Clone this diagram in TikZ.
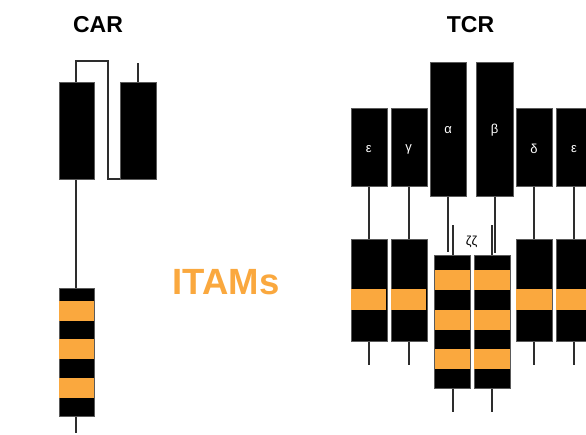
\documentclass[tikz,border=0pt]{standalone}
\usepackage{fontspec}
\setmainfont{Liberation Sans}
\definecolor{itam}{RGB}{250,168,62}
\definecolor{wire}{RGB}{45,45,45}
\definecolor{edge}{RGB}{90,90,90}
\begin{document}
\begin{tikzpicture}[x=1pt,y=-1pt,
  blk/.style={draw=edge,line width=0.6pt,fill=black,inner sep=0,anchor=north west,minimum width=36pt},
  band/.style={fill=itam},
  wirel/.style={draw=wire,line width=2pt},
  greek/.style={text=white,font=\fontsize{13}{15}\selectfont,inner sep=0},
  title/.style={font=\bfseries\fontsize{23}{26}\selectfont,inner sep=0}]
\useasboundingbox (0,0) rectangle (586,434);
\fill[white] (0,0) rectangle (586,434);
% titles
\node[title] (tcar) at (98,25) {CAR};
\node[title] (ttcr) at (470.5,25) {TCR};
\node[font=\bfseries\fontsize{36.5}{40}\selectfont,text=itam,inner sep=0] (itams) at (226,282) {ITAMs};
% ---------- CAR ----------
\coordinate (cartop) at (137.85,63);
\coordinate (carend) at (76.25,433);
\draw[wirel] (76.25,82) |- (107.7,61) |- (137.85,179);
\draw[wirel] (137.85,82) -- (cartop);
\draw[wirel] (76.25,179) -- (76.25,288);
\draw[wirel] (76.25,416) -- (carend);
\node[blk,minimum width=35.5pt,minimum height=97pt] (car1) at (58.5,82) {};
\node[blk,minimum width=35.5pt,minimum height=97pt] (car2) at (120.1,82) {};
\node[blk,minimum width=35.5pt,minimum height=128pt] (carz) at (58.5,288) {};
\foreach \a/\b in {301/321,339/359,378/398}{\fill[band] (58.9,\a) rectangle (93.6,\b);}
% ---------- TCR upper chains ----------
\node[blk,minimum height=78pt] (e1) at (350.7,108) {};
\node[blk,minimum height=78pt] (g) at (390.7,108) {};
\node[blk,minimum width=36.3pt,minimum height=134.3pt] (a) at (430,61.7) {};
\node[blk,minimum width=36.3pt,minimum height=134.3pt] (b) at (476.4,61.7) {};
\node[blk,minimum height=78pt] (d) at (516,108) {};
\node[blk,minimum height=78pt] (e2) at (556,108) {};
\node[greek] at (368.7,149) {ε};
\node[greek] at (408.7,149) {γ};
\node[greek] at (448.15,130) {α};
\node[greek] at (494.55,130) {β};
\node[greek] at (534,149) {δ};
\node[greek] at (574,149) {ε};
% ---------- TCR lower (CD3) ----------
\foreach \n/\x in {le1/350.7,lg/390.7,ld/516,le2/556}{
  \node[blk,minimum height=101.7pt] (\n) at (\x,239.3) {};
  \fill[band] (\x+0.4,289.3) rectangle (\x+35.6,310);
}
\node[blk,minimum height=133.3pt] (z1) at (434.3,255) {};
\node[blk,minimum height=133.3pt] (z2) at (474,255) {};
\foreach \x in {434.3,474}{
  \foreach \a/\c in {269.7/290,309.7/329.7,349.3/369.3}{\fill[band] (\x+0.4,\a) rectangle (\x+35.6,\c);}
}
\node[inner sep=0,font=\fontsize{13}{15}\selectfont] (zz) at (471.7,242) {ζζ};
% connectors
\draw[wirel] (e1.south) -- (le1.north);
\draw[wirel] (g.south) -- (lg.north);
\draw[wirel] (d.south) -- (ld.north);
\draw[wirel] (e2.south) -- (le2.north);
\foreach \n in {le1,lg,ld,le2}{
  \coordinate (\n end) at ([yshift=-23pt]\n.south);
  \draw[wirel] (\n.south) -- (\n end);
}
\coordinate (aend) at ([yshift=-55.7pt]a.south);
\coordinate (bend) at ([yshift=-56pt]b.south);
\draw[wirel] (a.south) -- (aend);
\draw[wirel] (b.south) -- (bend);
\coordinate (z1top) at ([yshift=30pt]z1.north);
\coordinate (z2top) at ([yshift=30pt]z2.north);
\draw[wirel] (z1top) -- (z1.north);
\draw[wirel] (z2top) -- (z2.north);
\coordinate (z1end) at ([yshift=-23pt]z1.south);
\coordinate (z2end) at ([yshift=-23pt]z2.south);
\draw[wirel] (z1.south) -- (z1end);
\draw[wirel] (z2.south) -- (z2end);
\end{tikzpicture}
\end{document}
